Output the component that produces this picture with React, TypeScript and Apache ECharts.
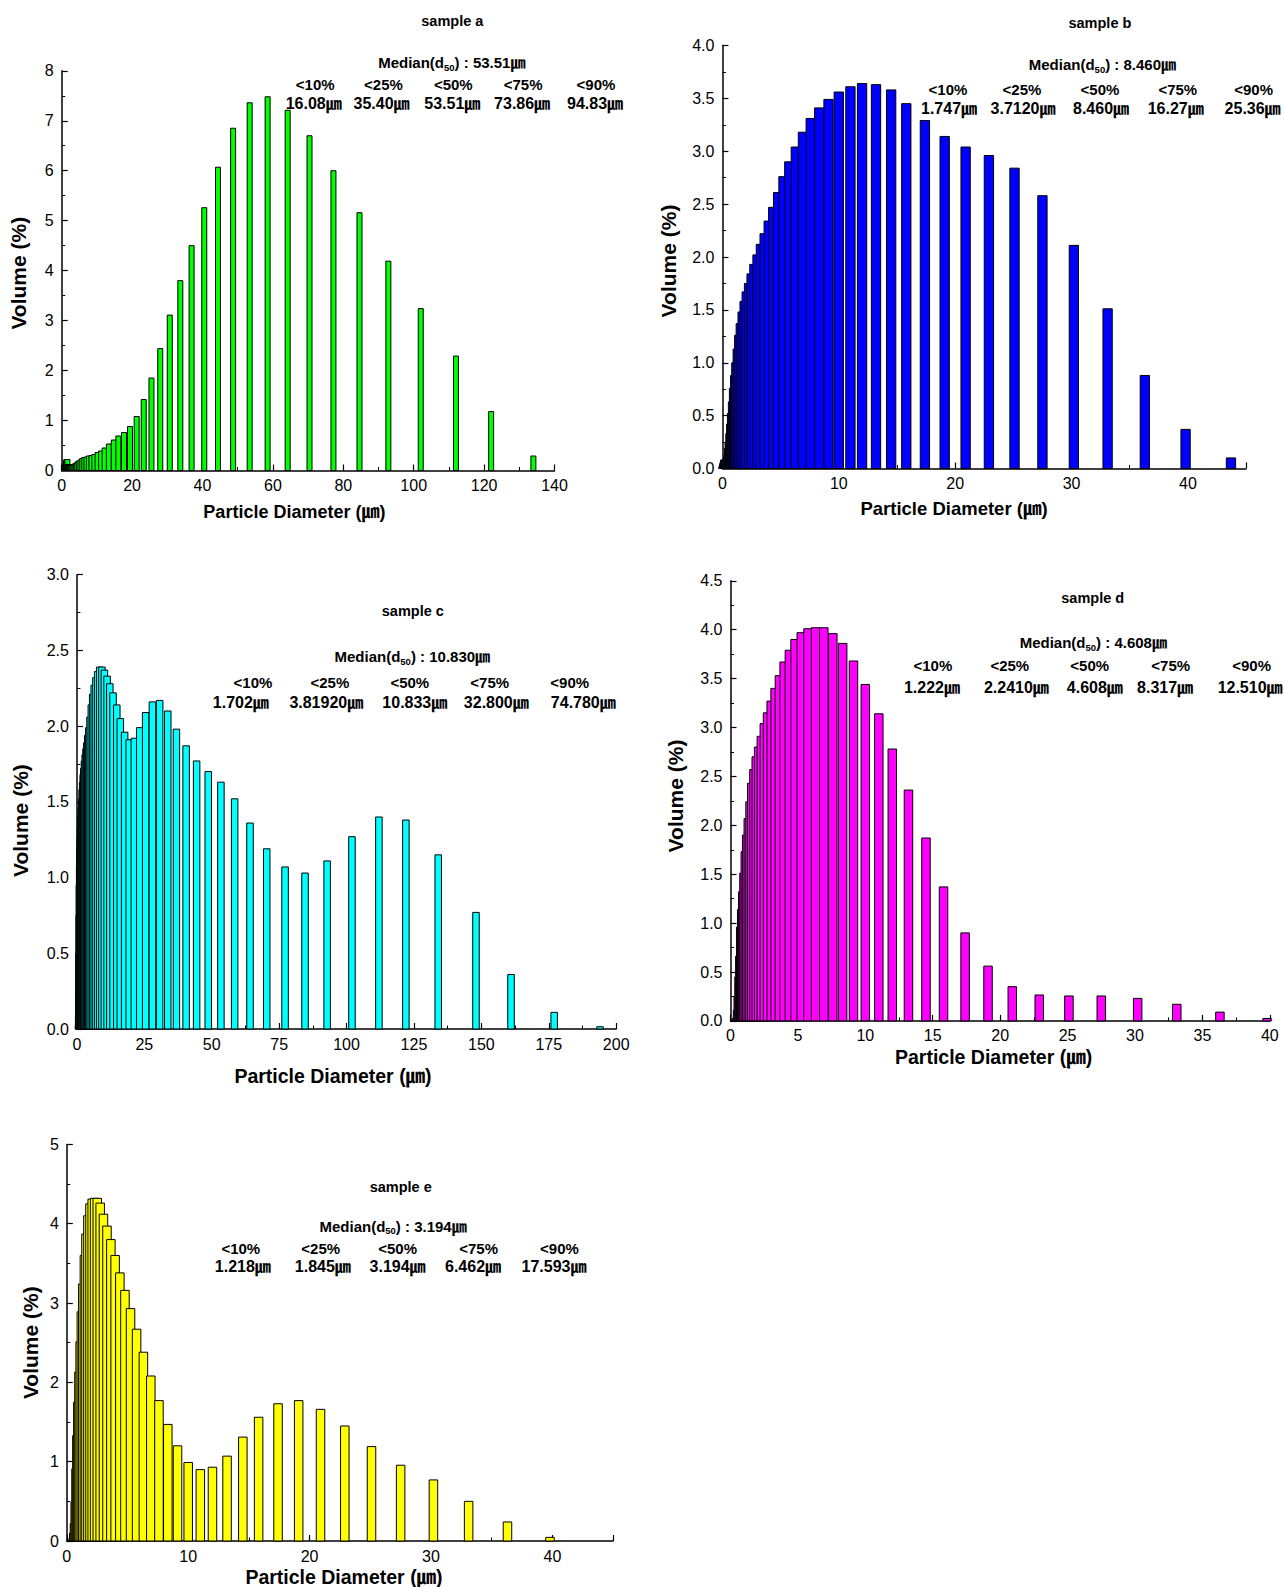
import React, { useEffect, useRef } from "react";
import * as echarts from "echarts";

// Bin centres (µm) of the analyser used for samples b, d and e
const diameters = [
  0.100, 0.110, 0.120, 0.132, 0.145, 0.158, 0.174, 0.191, 0.209, 0.229,
  0.251, 0.275, 0.302, 0.331, 0.363, 0.398, 0.437, 0.479, 0.525, 0.575,
  0.631, 0.692, 0.759, 0.832, 0.912, 1.00, 1.10, 1.20, 1.32, 1.45,
  1.58, 1.74, 1.91, 2.09, 2.29, 2.51, 2.75, 3.02, 3.31, 3.63,
  3.98, 4.37, 4.79, 5.25, 5.75, 6.31, 6.92, 7.59, 8.32, 9.12,
  10.0, 11.0, 12.0, 13.2, 14.5, 15.8, 17.4, 19.1, 20.9, 22.9,
  25.1, 27.5, 30.2, 33.1, 36.3, 39.8, 43.7, 47.9, 52.5, 57.5,
  63.1, 69.2, 75.9, 83.2, 91.2, 100, 110, 120, 132, 145,
  158, 174, 191,
];
const diametersWide = [
  0.102, 0.112, 0.122, 0.134, 0.148, 0.161, 0.177, 0.194, 0.213, 0.233,
  0.255, 0.280, 0.307, 0.337, 0.369, 0.405, 0.444, 0.487, 0.534, 0.585,
  0.642, 0.704, 0.772, 0.846, 0.928, 1.02, 1.12, 1.22, 1.34, 1.48,
  1.61, 1.77, 1.94, 2.13, 2.33, 2.55, 2.80, 3.07, 3.37, 3.69,
  4.05, 4.44, 4.87, 5.34, 5.85, 6.42, 7.04, 7.72, 8.46, 9.28,
  10.2, 11.2, 12.2, 13.4, 14.8, 16.1, 17.7, 19.4, 21.3, 23.3,
  25.5, 28.0, 30.7, 33.7, 36.9, 40.5, 44.4, 48.7, 53.4, 58.5,
  64.2, 70.4, 77.2, 84.6, 92.8, 102, 112, 122, 134, 148,
  161, 177, 194,
];

// Volume (%) per bin
const volumeA = [
  0, 0, 0, 0, 0, 0, 0, 0, 0, 0,
  0, 0, 0, 0, 0, 0, 0, 0, 0, 0,
  0, 0, 0, 0.02, 0.06, 0.12, 0.17, 0.20, 0.22, 0.22,
  0.22, 0.12, 0.10, 0.10, 0.10, 0.10, 0.10, 0.11, 0.12, 0.13,
  0.14, 0.17, 0.19, 0.21, 0.24, 0.26, 0.27, 0.29, 0.30, 0.32,
  0.36, 0.39, 0.45, 0.53, 0.61, 0.69, 0.76, 0.88, 1.08, 1.42,
  1.85, 2.44, 3.11, 3.80, 4.50, 5.26, 6.07, 6.85, 7.36, 7.48,
  7.21, 6.70, 6.00, 5.16, 4.19, 3.24, 2.29, 1.18, 0.29, 0,
  0, 0, 0,
];
const volumeB = [
  0.01, 0.01, 0.02, 0.02, 0.03, 0.03, 0.04, 0.05, 0.06, 0.07,
  0.08, 0.08, 0.07, 0.06, 0.05, 0.05, 0.06, 0.09, 0.13, 0.19,
  0.25, 0.33, 0.42, 0.52, 0.63, 0.76, 0.88, 1.00, 1.13, 1.26,
  1.37, 1.48, 1.58, 1.67, 1.75, 1.84, 1.93, 2.02, 2.12, 2.22,
  2.34, 2.47, 2.61, 2.76, 2.90, 3.04, 3.18, 3.31, 3.41, 3.49,
  3.56, 3.61, 3.64, 3.63, 3.58, 3.45, 3.29, 3.14, 3.04, 2.96,
  2.84, 2.58, 2.11, 1.51, 0.88, 0.37, 0.10, 0, 0, 0,
  0, 0, 0, 0, 0, 0, 0, 0, 0, 0,
  0, 0, 0,
];
const volumeC = [
  0, 0, 0, 0, 0, 0, 0, 0, 0, 0,
  0, 0, 0, 0, 0, 0, 0, 0, 0, 0.02,
  0.08, 0.25, 0.50, 0.75, 0.95, 1.07, 1.17, 1.26, 1.33, 1.40,
  1.46, 1.52, 1.58, 1.63, 1.68, 1.72, 1.77, 1.81, 1.85, 1.89,
  1.94, 1.99, 2.06, 2.14, 2.21, 2.27, 2.32, 2.36, 2.39, 2.39,
  2.37, 2.33, 2.28, 2.22, 2.14, 2.05, 1.96, 1.91, 1.92, 1.99,
  2.09, 2.16, 2.17, 2.10, 1.98, 1.87, 1.77, 1.70, 1.63, 1.52,
  1.36, 1.19, 1.07, 1.03, 1.11, 1.27, 1.40, 1.38, 1.15, 0.77,
  0.36, 0.11, 0.015,
];
const volumeD = [
  0, 0, 0, 0, 0, 0, 0, 0, 0, 0,
  0, 0, 0, 0, 0, 0.01, 0.01, 0.03, 0.11, 0.25,
  0.45, 0.66, 0.96, 1.14, 1.32, 1.51, 1.73, 1.90, 2.07, 2.24,
  2.43, 2.57, 2.70, 2.80, 2.91, 3.04, 3.15, 3.27, 3.40, 3.53,
  3.67, 3.79, 3.90, 3.97, 4.01, 4.02, 4.02, 3.96, 3.86, 3.68,
  3.44, 3.14, 2.78, 2.36, 1.87, 1.37, 0.90, 0.56, 0.35, 0.265,
  0.255, 0.255, 0.23, 0.17, 0.09, 0.025, 0, 0, 0, 0,
  0, 0, 0, 0, 0, 0, 0, 0, 0, 0,
  0, 0, 0,
];
const volumeE = [
  0, 0, 0, 0, 0, 0, 0, 0, 0, 0,
  0, 0, 0, 0, 0, 0, 0, 0, 0.03, 0.10,
  0.22, 0.49, 0.91, 1.33, 1.75, 2.13, 2.51, 2.89, 3.24, 3.60,
  3.87, 4.10, 4.25, 4.31, 4.32, 4.32, 4.26, 4.12, 3.97, 3.80,
  3.60, 3.38, 3.16, 2.93, 2.67, 2.38, 2.08, 1.77, 1.47, 1.20,
  0.99, 0.90, 0.93, 1.07, 1.31, 1.56, 1.73, 1.77, 1.66, 1.45,
  1.19, 0.955, 0.77, 0.50, 0.24, 0.046, 0, 0, 0, 0,
  0, 0, 0, 0, 0, 0, 0, 0, 0, 0,
  0, 0, 0,
];

const sampleNames = ["sample a", "sample b", "sample c", "sample d", "sample e"];
const percentLabels = ["<10%", "<25%", "<50%", "<75%", "<90%"];
const medianValues = ["53.51", "8.460", "10.830", "4.608", "3.194"];
const quantilesA = ["16.08", "35.40", "53.51", "73.86", "94.83"];
const quantilesB = ["1.747", "3.7120", "8.460", "16.27", "25.36"];
const quantilesC = ["1.702", "3.81920", "10.833", "32.800", "74.780"];
const quantilesD = ["1.222", "2.2410", "4.608", "8.317", "12.510"];
const quantilesE = ["1.218", "1.845", "3.194", "6.462", "17.593"];
const xAxisTitle = "Particle Diameter (㎛)";
const yAxisTitle = "Volume (%)";
const UNIT = "㎛";

const FONT = "'Liberation Sans', Arial, 'Noto Sans CJK SC', sans-serif";
const NARROW = "'Liberation Sans Narrow', 'Arial Narrow', 'Liberation Sans', Arial, 'Noto Sans CJK SC', sans-serif";

const panels = [
  {
    name: sampleNames[0], xs: diametersWide, values: volumeA, color: "#00ff00", barWidth: 5,
    grid: { left: 61.7, top: 70.8, width: 492.8, height: 399.7 },
    xMax: 140, xInterval: 20, yMax: 8, yInterval: 1, yDec: 0,
    xTitle: [294.4, 512, 18], yTitle: [18.2, 273.2, 21],
    title: [452.3, 21.2], median: [451.8, 62.7], medianText: medianValues[0],
    row1Y: 84, row1X: [315.2, 383.5, 453.3, 523.1, 596],
    row2Y: 103.2, row2X: [313.7, 381.5, 452.3, 522.1, 595], quantiles: quantilesA,
  },
  {
    name: sampleNames[1], xs: diameters, values: volumeB, color: "#0000ff", barWidth: 9.3,
    grid: { left: 722.4, top: 45.5, width: 523.7, height: 423 },
    xMax: 45, xInterval: 10, yMax: 4, yInterval: 0.5, yDec: 1,
    xTitle: [954, 508, 18.5], yTitle: [668, 261, 21],
    title: [1099.9, 23.3], median: [1102.4, 64.8], medianText: medianValues[1],
    row1Y: 89, row1X: [948, 1022, 1100, 1177.8, 1253.6],
    row2Y: 108.3, row2X: [949, 1023, 1101, 1175.7, 1252.6], quantiles: quantilesB,
  },
  {
    name: sampleNames[2], xs: diametersWide, values: volumeC, color: "#00ffff", barWidth: 6.5,
    grid: { left: 76.9, top: 574.7, width: 539.3, height: 454.3 },
    xMax: 200, xInterval: 25, yMax: 3, yInterval: 0.5, yDec: 1,
    xTitle: [333, 1075.5, 19.5], yTitle: [20.2, 820.6, 21],
    title: [412.8, 611.2], median: [412.3, 656.7], medianText: medianValues[2],
    row1Y: 682, row1X: [253, 329.9, 409.8, 489.7, 569.7],
    row2Y: 702.2, row2X: [240.8, 326.3, 414.8, 496.3, 583.3], quantiles: quantilesC,
  },
  {
    name: sampleNames[3], xs: diameters, values: volumeD, color: "#ff00ff", barWidth: 8.5,
    grid: { left: 730.5, top: 580.8, width: 539.3, height: 440.1 },
    xMax: 40, xInterval: 5, yMax: 4.5, yInterval: 0.5, yDec: 1,
    xTitle: [993.6, 1057.3, 19.5], yTitle: [675, 796, 21],
    title: [1092.7, 598], median: [1093.3, 642.5], medianText: medianValues[3],
    row1Y: 665.8, row1X: [932.9, 1009.8, 1089.7, 1170.7, 1251.6],
    row2Y: 687, row2X: [931.9, 1016.4, 1094.8, 1165.1, 1250.1], quantiles: quantilesD,
  },
  {
    name: sampleNames[4], xs: diameters, values: volumeE, color: "#ffff00", barWidth: 8.5,
    grid: { left: 66.8, top: 1144.4, width: 546.3, height: 396.6 },
    xMax: 45, xInterval: 10, yMax: 5, yInterval: 1, yDec: 0,
    xTitle: [344, 1577.4, 19.5], yTitle: [30.4, 1342.7, 21],
    title: [400.7, 1186.9], median: [393.1, 1226.3], medianText: medianValues[4],
    row1Y: 1248.6, row1X: [240.8, 320.7, 397.6, 478.6, 559.5],
    row2Y: 1266.8, row2X: [242.8, 322.8, 397.6, 473, 554], quantiles: quantilesE,
  },
];

function text(x: number, y: number, t: string, size: number, family: string, extra: any = {}) {
  return {
    type: "text",
    x,
    y,
    ...extra,
    style: {
      text: t,
      fill: "#000",
      fontSize: size,
      fontWeight: "bold",
      fontFamily: family,
      align: "center",
      verticalAlign: "middle",
    },
  };
}

export default function App() {
  const ref = useRef<HTMLDivElement>(null);

  useEffect(() => {
    if (!ref.current) return;
    const chart = echarts.init(ref.current, null, { renderer: "svg" });

    const grids = panels.map((p) => ({ ...p.grid, containLabel: false, outerBoundsMode: "none", show: false }));

    const axisCommon = {
      type: "value",
      axisLine: { show: true, onZero: false, lineStyle: { color: "#000", width: 1.5 } },
      axisTick: { show: true, inside: true, length: 6, lineStyle: { color: "#000", width: 1.2 } },
      minorTick: { show: true, splitNumber: 2, length: 3.5, lineStyle: { color: "#000", width: 1 } },
      splitLine: { show: false },
      minorSplitLine: { show: false },
    };

    const xAxes = panels.map((p, i) => ({
      ...axisCommon,
      gridIndex: i,
      min: 0,
      max: p.xMax,
      interval: p.xInterval,
      axisLabel: {
        color: "#000", fontSize: 16, fontFamily: NARROW, margin: 7,
        showMaxLabel: p.xMax % p.xInterval === 0,
      },
    }));

    const yAxes = panels.map((p, i) => ({
      ...axisCommon,
      gridIndex: i,
      min: 0,
      max: p.yMax,
      interval: p.yInterval,
      axisLabel: {
        color: "#000", fontSize: 16, fontFamily: NARROW, margin: 8,
        formatter: (v: number) => v.toFixed(p.yDec),
      },
    }));

    const series = panels.map((p, i) => ({
      type: "custom",
      name: p.name,
      xAxisIndex: i,
      yAxisIndex: i,
      encode: { x: 0, y: 1 },
      data: p.xs.map((d, k) => [d, p.values[k]]).filter((v) => v[1] > 0),
      renderItem: (params: any, api: any) => {
        const x = api.value(0);
        const y = api.value(1);
        const top = api.coord([x, y]);
        const base = api.coord([x, 0]);
        const w = p.barWidth;
        return {
          type: "rect",
          shape: { x: top[0] - w / 2, y: top[1], width: w, height: base[1] - top[1] },
          style: { fill: p.color, stroke: "#000", lineWidth: 1 },
        };
      },
    }));

    const graphics: any[] = [];
    panels.forEach((p) => {
      graphics.push(text(p.xTitle[0], p.xTitle[1], xAxisTitle, p.xTitle[2], FONT));
      graphics.push(text(p.yTitle[0], p.yTitle[1], yAxisTitle, p.yTitle[2], FONT, { rotation: Math.PI / 2 }));
      graphics.push(text(p.title[0], p.title[1], p.name, 14.5, NARROW));
      graphics.push({
        type: "text",
        x: p.median[0],
        y: p.median[1],
        style: {
          text: `Median(d{s|50}) : ${p.medianText}${UNIT}`,
          fill: "#000",
          fontSize: 15,
          fontWeight: "bold",
          fontFamily: NARROW,
          align: "center",
          verticalAlign: "middle",
          rich: {
            s: { fontSize: 9.5, fontWeight: "bold", fontFamily: NARROW, fill: "#000", padding: [9, 0, 0, 0] },
          },
        },
      });
      percentLabels.forEach((lab, j) => {
        graphics.push(text(p.row1X[j], p.row1Y, lab, 15, NARROW));
        graphics.push(text(p.row2X[j], p.row2Y, `${p.quantiles[j]}${UNIT}`, 16, NARROW));
      });
    });

    chart.setOption({
      animation: false,
      backgroundColor: "#fff",
      grid: grids,
      xAxis: xAxes,
      yAxis: yAxes,
      series,
      graphic: graphics,
    });

    return () => chart.dispose();
  }, []);

  return (
    <div
      ref={ref}
      style={{ position: "absolute", left: 0, top: 0, width: 1284, height: 1587, background: "#fff" }}
    />
  );
}
